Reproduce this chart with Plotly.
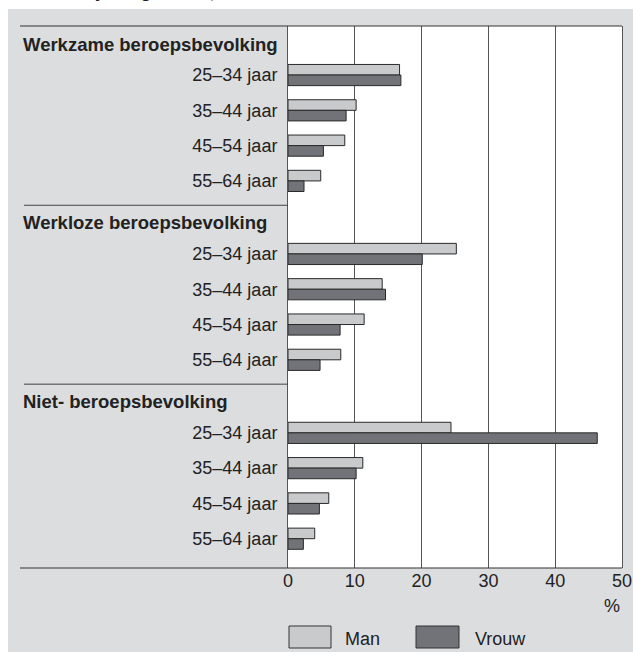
import plotly.graph_objects as go

# data (percentages)
groups = ["Werkzame beroepsbevolking", "Werkloze beroepsbevolking", "Niet- beroepsbevolking"]
ages = ["25–34 jaar", "35–44 jaar", "45–54 jaar", "55–64 jaar"]
man = [16.7, 10.2, 8.5, 4.9, 25.2, 14.1, 11.4, 7.9, 24.4, 11.2, 6.1, 4.0]
vrouw = [16.9, 8.7, 5.3, 2.4, 20.1, 14.6, 7.8, 4.8, 46.3, 10.2, 4.7, 2.3]
x_ticks = [0, 10, 20, 30, 40, 50]
series_names = ["Man", "Vrouw"]
title_text = "naar leeftijd en geslacht, 2003"

FONT = "Liberation Sans, Arial, sans-serif"
LIGHT = "#c9cacc"
DARK = "#727378"
PANEL = "#dcdddf"
INK = "#222222"

# plot area in pixels
W, H = 633, 660
L, R, T, B = 288, 622, 26, 568
GROUP_STEP = 5.07  # rows per group block (incl. header)


def px(x):
    return (x - L) / (R - L)


def py(y):
    return (B - y) / (B - T)


row_pos = [g * GROUP_STEP + r for g in range(len(groups)) for r in range(len(ages))]
row_text = ages * len(groups)

fig = go.Figure()
fig.add_trace(go.Bar(
    x=man, y=row_pos, orientation="h", name=series_names[0],
    width=0.3, offset=-0.3,
    marker=dict(color=LIGHT, line=dict(color="#2a2a2a", width=1)),
))
fig.add_trace(go.Bar(
    x=vrouw, y=row_pos, orientation="h", name=series_names[1],
    width=0.3, offset=0,
    marker=dict(color=DARK, line=dict(color="#2a2a2a", width=1)),
))

shapes = [
    # grey panel behind everything, white plot area on top of it
    dict(type="rect", xref="paper", yref="paper", x0=px(8), x1=px(W + 5), y0=py(652), y1=py(9),
         fillcolor=PANEL, line_width=0, layer="below"),
    dict(type="rect", xref="paper", yref="paper", x0=0, x1=1, y0=0, y1=1,
         fillcolor="white", line_width=0, layer="below"),
    # top and bottom rules
    dict(type="line", xref="paper", yref="paper", x0=px(20), x1=1, y0=1, y1=1,
         line=dict(color="#333", width=1.2)),
    dict(type="line", xref="paper", yref="paper", x0=px(20), x1=1, y0=0, y1=0,
         line=dict(color="#333", width=1.2)),
]
for g in range(1, len(groups)):
    yy = g * GROUP_STEP - 1.38
    shapes.append(dict(type="line", xref="paper", yref="y", x0=px(24), x1=0, y0=yy, y1=yy,
                       line=dict(color="#444", width=1)))

# hand-made legend boxes
shapes.append(dict(type="rect", xref="paper", yref="paper", x0=px(289), x1=px(331),
                   y0=py(648), y1=py(626), fillcolor=LIGHT, line=dict(color="#333", width=1)))
shapes.append(dict(type="rect", xref="paper", yref="paper", x0=px(416), x1=px(459),
                   y0=py(648), y1=py(626), fillcolor=DARK, line=dict(color="#333", width=1)))

annotations = []
for g, name in enumerate(groups):
    annotations.append(dict(
        text="<b>%s</b>" % name, xref="paper", yref="y", x=px(21), y=g * GROUP_STEP - 0.88,
        xanchor="left", yanchor="middle", showarrow=False, font=dict(size=18.5, color=INK),
    ))
annotations += [
    dict(text="%", xref="paper", yref="paper", x=1, y=py(606), xanchor="right",
         yanchor="middle", showarrow=False, font=dict(size=18, color=INK)),
    dict(text=series_names[0], xref="paper", yref="paper", x=px(343), y=py(639),
         xanchor="left", yanchor="middle", showarrow=False, font=dict(size=18, color=INK)),
    dict(text=series_names[1], xref="paper", yref="paper", x=px(473), y=py(639),
         xanchor="left", yanchor="middle", showarrow=False, font=dict(size=18, color=INK)),
    dict(text="<b>%s</b>" % title_text, xref="paper", yref="paper", x=px(14), y=py(4),
         xanchor="left", yanchor="bottom", showarrow=False, font=dict(size=17, color=INK)),
]

fig.update_layout(
    width=W, height=H, autosize=False,
    margin=dict(l=L, r=W - R, t=T, b=H - B, autoexpand=False),
    paper_bgcolor="white", plot_bgcolor="white",
    font=dict(family=FONT, size=18, color=INK),
    showlegend=False,
    barmode="overlay",
    shapes=shapes,
    annotations=annotations,
    xaxis=dict(
        range=[0, 50], tickvals=x_ticks, showgrid=True, gridcolor="#555", gridwidth=1,
        zeroline=False, showline=False, ticks="", tickfont=dict(size=18, color=INK),
        automargin=False,
    ),
    yaxis=dict(
        range=[2 * GROUP_STEP + 3.83, -1.39], tickvals=row_pos, ticktext=row_text,
        showgrid=False, zeroline=False, showline=True, mirror=True, linecolor="#555",
        ticks="", ticklabelstandoff=6, tickfont=dict(size=18, color=INK), automargin=False,
    ),
)

# the page's default 8px body margin would shift the fixed-size figure
fig.write_html(
    "out.html",
    config={"displayModeBar": False, "responsive": False},
    post_script="document.body.style.margin='0';document.documentElement.style.overflow='hidden';",
)
